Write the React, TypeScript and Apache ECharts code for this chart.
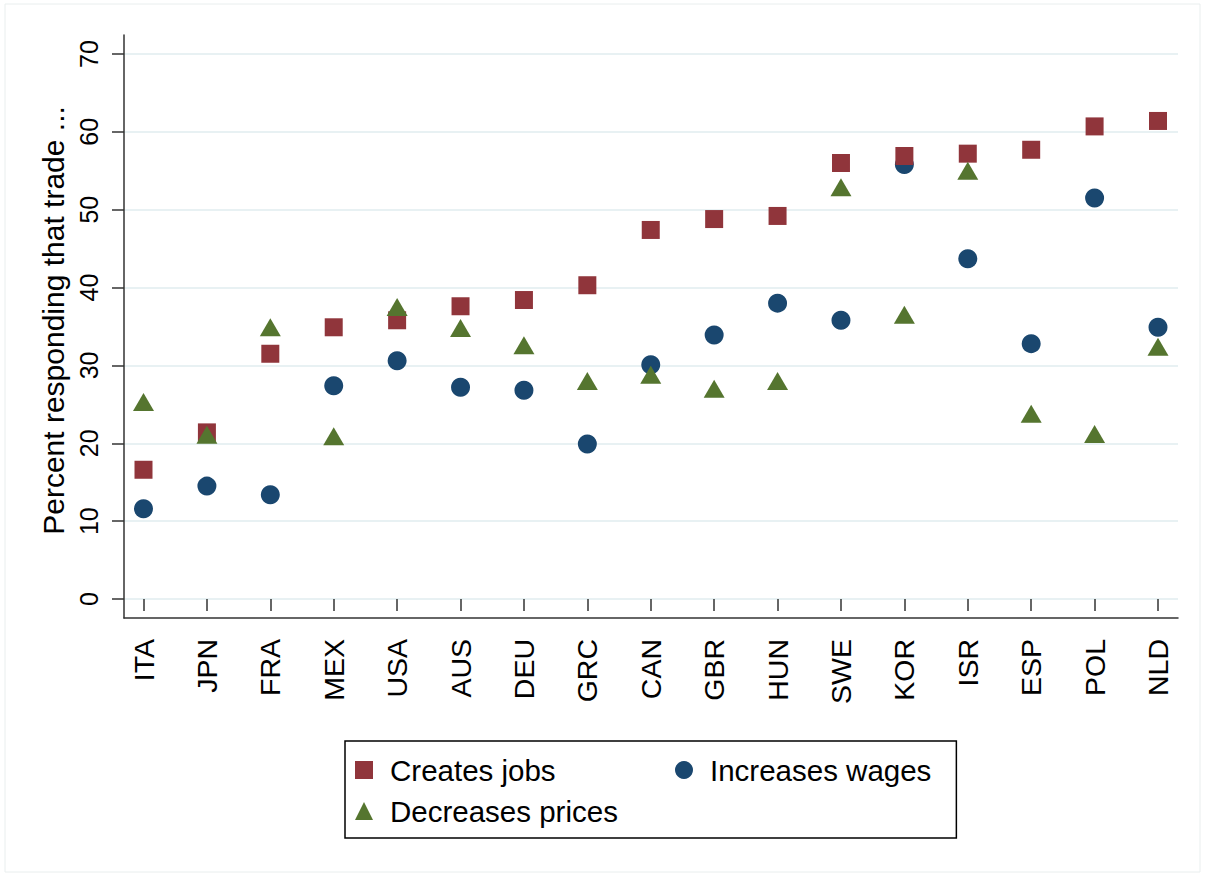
import React, { useEffect, useRef } from "react";
import * as echarts from "echarts";

const categories = ["ITA", "JPN", "FRA", "MEX", "USA", "AUS", "DEU", "GRC", "CAN", "GBR", "HUN", "SWE", "KOR", "ISR", "ESP", "POL", "NLD"];
const createsJobs = [16.6, 21.4, 31.5, 34.9, 35.8, 37.6, 38.4, 40.3, 47.4, 48.8, 49.2, 56.0, 56.9, 57.2, 57.7, 60.7, 61.4];
const increasesWages = [11.6, 14.5, 13.4, 27.4, 30.6, 27.2, 26.8, 19.9, 30.1, 33.9, 38.0, 35.8, 55.8, 43.7, 32.8, 51.5, 34.9];
const decreasesPrices = [25.3, 21.1, 34.9, 20.9, 37.5, 34.8, 32.6, 28.0, 28.8, 27.0, 28.0, 52.9, 36.5, 55.0, 23.8, 21.2, 32.4];
const yMin = 0;
const yMax = 70;
const yStep = 10;
const yTitle = "Percent responding that trade ...";
const seriesNames = ["Creates jobs", "Increases wages", "Decreases prices"];

const FONT = "Liberation Sans, Arial, sans-serif";
const MAROON = "#90353B";
const NAVY = "#1A476F";
const GREEN = "#55752F";

export default function App() {
  const ref = useRef<HTMLDivElement>(null);
  useEffect(() => {
    document.body.style.margin = "0";
    const chart = echarts.init(ref.current!, null, { renderer: "svg" });
    // plot frame (axis lines)
    const aL = 124, aR = 1178, aT = 35, aB = 618;
    // data region
    const dL = 143.5, dR = 1158, dT = 54, dB = 599;
    const hiddenAxis = { show: false };
    const option: any = {
      animation: false,
      backgroundColor: "#ffffff",
      textStyle: { fontFamily: FONT },
      graphic: [
        {
          type: "rect",
          shape: { x: 5, y: 4, width: 1195, height: 868 },
          style: { fill: "none", stroke: "#e9eeee", lineWidth: 1 },
          silent: true,
        },
      ],
      grid: [
        { left: aL, top: aT, width: aR - aL, height: aB - aT, containLabel: false },
        { left: dL, top: dT, width: dR - dL, height: dB - dT, containLabel: false },
        { left: aL, top: dT, width: aR - aL, height: dB - dT, containLabel: false },
      ],
      xAxis: [
        {
          gridIndex: 0, type: "value", min: 0, max: 1,
          axisLine: { show: true, onZero: false, lineStyle: { color: "#333", width: 1.5 } },
          axisTick: { show: false }, axisLabel: { show: false }, splitLine: { show: false },
        },
        {
          gridIndex: 1, type: "category", data: categories, boundaryGap: false,
          position: "bottom", offset: aB - dB,
          axisLine: { show: false },
          axisTick: { show: true, interval: 0, length: 12, lineStyle: { color: "#333", width: 1.5 } },
          axisLabel: { show: true, interval: 0, rotate: 90, margin: 21, fontSize: 28.5, color: "#000", fontFamily: FONT },
          splitLine: { show: false },
        },
        { gridIndex: 2, type: "value", min: 0, max: 1, ...hiddenAxis },
      ],
      yAxis: [
        {
          gridIndex: 0, type: "value", min: 0, max: 1,
          axisLine: { show: true, onZero: false, lineStyle: { color: "#333", width: 1.5 } },
          axisTick: { show: false }, axisLabel: { show: false }, splitLine: { show: false },
        },
        { gridIndex: 1, type: "value", min: yMin, max: yMax, ...hiddenAxis },
        {
          gridIndex: 2, type: "value", min: yMin, max: yMax, interval: yStep,
          name: yTitle, nameLocation: "middle", nameGap: 40,
          nameTextStyle: { fontSize: 30, color: "#000", fontFamily: FONT, padding: [0, 0, 0, 12] },
          axisLine: { show: false },
          axisTick: { show: true, length: 12, lineStyle: { color: "#333", width: 1.5 } },
          axisLabel: { show: true, rotate: 90, margin: 23, fontSize: 25, color: "#000", fontFamily: FONT },
          splitLine: { show: true, lineStyle: { color: "#e8f1f3", width: 2 } },
        },
      ],
      legend: {
        left: 345,
        top: 741,
        orient: "horizontal",
        itemWidth: 18,
        itemHeight: 18,
        itemGap: 10,
        width: 620,
        padding: [13.5, 25, 11.5, 10],
        borderColor: "#000",
        borderWidth: 1.5,
        data: [
          { name: seriesNames[0], icon: "rect", itemStyle: { color: MAROON, opacity: 1 } },
          { name: seriesNames[1], icon: "circle", itemStyle: { color: NAVY, opacity: 1 } },
          { name: seriesNames[2], icon: "triangle", itemStyle: { color: GREEN, opacity: 1 } },
        ],
        formatter: (name: string) => (name === seriesNames[0] ? `{a|${name}}` : `{b|${name}}`),
        textStyle: {
          fontSize: 29.5,
          color: "#000",
          fontFamily: FONT,
          lineHeight: 31,
          rich: {
            a: { fontSize: 29.5, lineHeight: 31, color: "#000", fontFamily: FONT, width: 275, padding: [0, 0, 0, 12] },
            b: { fontSize: 29.5, lineHeight: 31, color: "#000", fontFamily: FONT, padding: [0, 0, 0, 12] },
          },
        },
      },
      series: [
        {
          name: seriesNames[1], type: "scatter", xAxisIndex: 1, yAxisIndex: 1,
          symbol: "circle", symbolSize: 19, itemStyle: { color: NAVY, opacity: 1 }, data: increasesWages,
        },
        {
          name: seriesNames[0], type: "scatter", xAxisIndex: 1, yAxisIndex: 1,
          symbol: "rect", symbolSize: 18, itemStyle: { color: MAROON, opacity: 1 }, data: createsJobs,
        },
        {
          name: seriesNames[2], type: "scatter", xAxisIndex: 1, yAxisIndex: 1,
          symbol: "triangle", symbolSize: [21, 18], itemStyle: { color: GREEN, opacity: 1 }, data: decreasesPrices,
        },
      ],
    };
    chart.setOption(option);
    return () => chart.dispose();
  }, []);
  return <div ref={ref} style={{ width: 1210, height: 877 }} />;
}
